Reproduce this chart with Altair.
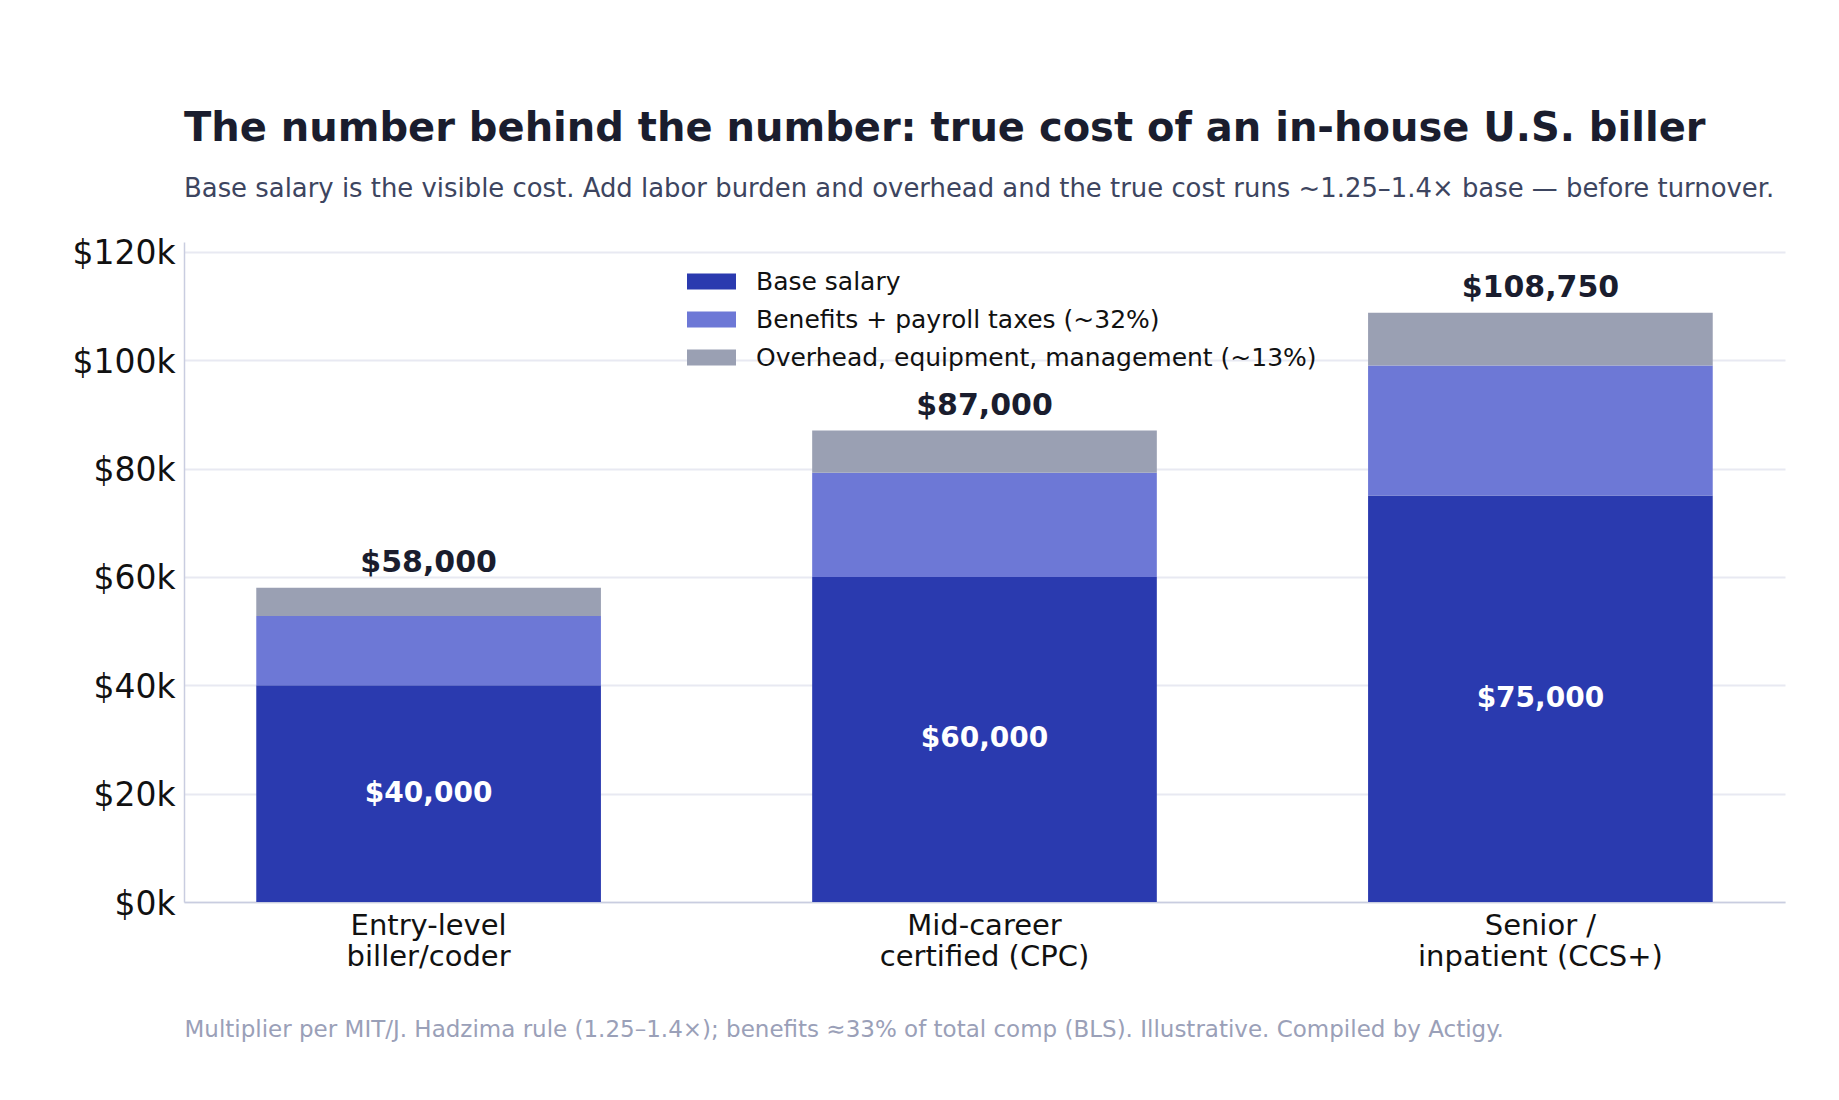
import altair as alt
import pandas as pd

# Roles (newline splits the axis label onto two lines)
roles = ["Entry-level\nbiller/coder", "Mid-career\ncertified (CPC)", "Senior /\ninpatient (CCS+)"]

# Annual cost components, USD
base_salary = [40000, 60000, 75000]
benefits = [12800, 19200, 24000]
overhead = [5200, 7800, 9750]

components = [
    "Base salary",
    "Benefits + payroll taxes (~32%)",
    "Overhead, equipment, management (~13%)",
]
colors = ["#2a3aaf", "#6d78d6", "#9aa0b3"]

rows = []
for i, role in enumerate(roles):
    for k, vals in enumerate([base_salary, benefits, overhead]):
        rows.append({"role": role, "component": components[k], "value": vals[i], "order": k})
df = pd.DataFrame(rows)

totals = pd.DataFrame({
    "role": roles,
    "total": [b + f + o for b, f, o in zip(base_salary, benefits, overhead)],
})
base_df = pd.DataFrame({"role": roles, "base": base_salary})

FONT = "DejaVu Sans"

x_enc = alt.X(
    "role:N",
    sort=roles,
    scale=alt.Scale(paddingInner=0.38, paddingOuter=0.13),
    axis=alt.Axis(
        title="Multiplier per MIT/J. Hadzima rule (1.25–1.4×); benefits ≈33% of total comp (BLS). Illustrative. Compiled by Actigy.",
        titleAnchor="start",
        titleAlign="left",
        titleX=0,
        titleY=134,
        titleBaseline="alphabetic",
        titleFontSize=23,
        titleFontWeight="normal",
        titleColor="#9aa0b8",
        titleLimit=0,
        labelAngle=0,
        labelExpr="split(datum.label, '\\n')",
        labelFontSize=29,
        labelLineHeight=31,
        labelColor="#111111",
        labelPadding=9,
        labelBaseline="top",
        labelLimit=0,
        ticks=False,
        domainColor="#c9cde0",
        domainWidth=1.5,
    ),
)

y_scale = alt.Scale(domain=[0, 121800], nice=False)

bars = alt.Chart(df).mark_bar().encode(
    x=x_enc,
    y=alt.Y(
        "value:Q",
        stack="zero",
        scale=y_scale,
        axis=alt.Axis(
            title=None,
            values=[0, 20000, 40000, 60000, 80000, 100000, 120000],
            labelExpr="'$' + (datum.value / 1000) + 'k'",
            labelFontSize=33,
            labelColor="#111111",
            labelPadding=9,
            labelOffset=2,
            ticks=False,
            grid=True,
            gridColor="#e8e9f2",
            gridWidth=2,
            domainColor="#c9cde0",
            domainWidth=1.5,
        ),
    ),
    color=alt.Color(
        "component:N",
        sort=components,
        scale=alt.Scale(domain=components, range=colors),
        legend=alt.Legend(
            title=None,
            orient="none",
            legendX=503,
            legendY=15,
            direction="vertical",
            symbolType="M-1,-0.33L1,-0.33L1,0.33L-1,0.33Z",
            symbolSize=2401,
            symbolStrokeWidth=0,
            symbolOpacity=1,
            labelFontSize=25,
            labelColor="#111111",
            labelOffset=20,
            labelLimit=0,
            rowPadding=0,
            padding=0,
        ),
    ),
    order=alt.Order("order:Q"),
)

total_labels = alt.Chart(totals).mark_text(
    fontSize=30, fontWeight="bold", color="#1a1d2e", baseline="alphabetic", dy=-16
).encode(
    x=alt.X("role:N", sort=roles),
    y=alt.Y("total:Q", scale=y_scale),
    text=alt.Text("total:Q", format="$,.0f"),
)

base_labels = alt.Chart(base_df).transform_calculate(
    mid="datum.base / 2"
).mark_text(
    fontSize=28, fontWeight="bold", color="#ffffff", baseline="middle"
).encode(
    x=alt.X("role:N", sort=roles),
    y=alt.Y("mid:Q", scale=y_scale),
    text=alt.Text("base:Q", format="$,.0f"),
)

chart = alt.layer(bars, total_labels, base_labels).properties(
    width=1601,
    height=660,
    autosize=alt.AutoSizeParams(type="none"),
    padding={"left": 184, "top": 242, "right": 54, "bottom": 198},
    title=alt.TitleParams(
        text="The number behind the number: true cost of an in-house U.S. biller",
        subtitle="Base salary is the visible cost. Add labor burden and overhead and the true cost runs ~1.25–1.4× base — before turnover.",
        anchor="start",
        frame="group",
        fontSize=40,
        fontWeight="bold",
        color="#1a1d2e",
        subtitleFontSize=25.9,
        subtitleColor="#3d4560",
        subtitlePadding=28,
        offset=36,
        font=FONT,
        subtitleFont=FONT,
    ),
).configure(
    font=FONT,
    background="#ffffff",
).configure_view(
    stroke=None,
)

chart.save("out.html", embed_options={"renderer": "svg", "actions": False})
